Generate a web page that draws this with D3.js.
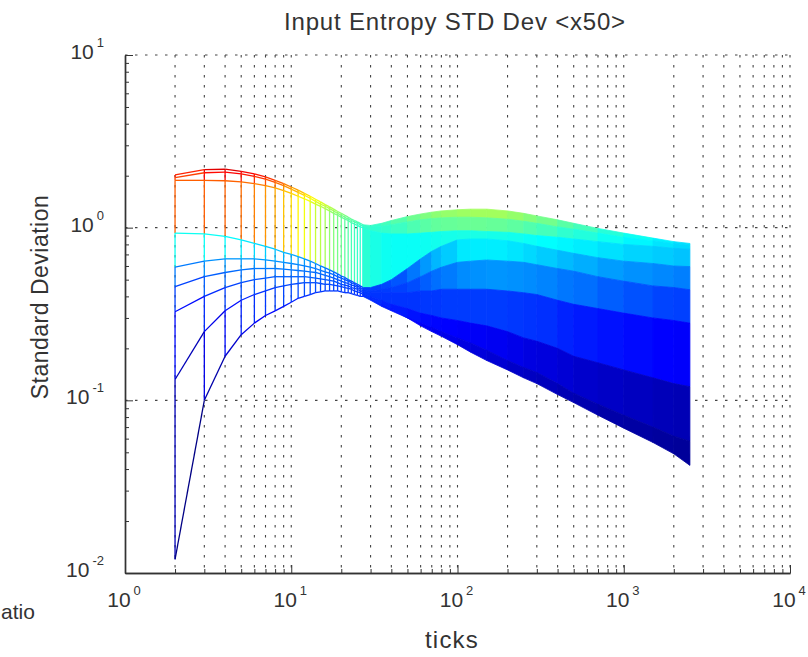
<!DOCTYPE html>
<html>
<head>
<meta charset="utf-8">
<script src="https://cdn.jsdelivr.net/npm/d3@7"></script>
<style>
  body { margin: 0; background: #fff; }
  text { font-family: "Liberation Sans", Arial, sans-serif; fill: #333; }
  .grid line { stroke: #444; stroke-width: 1.1; stroke-dasharray: 2.5,7.5; }
</style>
</head>
<body>
<div class="chart"></div>
<script>
// tick counts sampled along the x axis
var tickCols = [2, 3, 4, 5, 6, 7, 8, 9, 10, 11, 12, 13, 14, 15, 16, 17, 18, 19, 20, 21, 22, 23, 24, 25, 26, 27,
  30, 35, 40, 50, 60, 70, 80, 100, 120, 150, 200, 250, 300, 400, 500, 700, 1000, 1500, 2000, 2500];

// standard deviation, one array per mesh row (top to bottom)
var run1 = [2.02, 2.17, 2.18, 2.12, 2.05, 1.97, 1.88, 1.80, 1.72, 1.65, 1.58, 1.52, 1.46, 1.41, 1.36, 1.32, 1.28, 1.24, 1.21, 1.18, 1.15, 1.12, 1.10, 1.08, 1.06, 1.04,
  1.03, 1.06, 1.10, 1.16, 1.20, 1.23, 1.25, 1.27, 1.28, 1.28, 1.25, 1.21, 1.17, 1.11, 1.06, 0.99, 0.93, 0.87, 0.83, 0.81];
var run2 = [1.95, 2.08, 2.10, 2.05, 1.98, 1.91, 1.83, 1.75, 1.67, 1.60, 1.54, 1.48, 1.42, 1.37, 1.33, 1.29, 1.25, 1.21, 1.18, 1.15, 1.12, 1.10, 1.08, 1.06, 1.04, 1.02,
  1.01, 1.02, 1.04, 1.08, 1.11, 1.13, 1.14, 1.15, 1.15, 1.14, 1.12, 1.09, 1.06, 1.01, 0.98, 0.93, 0.88, 0.84, 0.81, 0.79];
var run3 = [1.88, 1.88, 1.87, 1.84, 1.80, 1.75, 1.70, 1.64, 1.58, 1.52, 1.47, 1.42, 1.37, 1.33, 1.29, 1.25, 1.21, 1.18, 1.15, 1.12, 1.10, 1.07, 1.05, 1.03, 1.01, 1.00,
  0.96, 0.93, 0.92, 0.92, 0.93, 0.94, 0.95, 0.96, 0.96, 0.95, 0.94, 0.92, 0.90, 0.88, 0.86, 0.83, 0.80, 0.78, 0.76, 0.75];
var run4 = [0.93, 0.92, 0.89, 0.85, 0.81, 0.78, 0.75, 0.72, 0.70, 0.68, 0.66, 0.64, 0.62, 0.60, 0.585, 0.57, 0.555, 0.54, 0.525, 0.515, 0.50, 0.49, 0.48, 0.47, 0.46, 0.45,
  0.45, 0.47, 0.50, 0.58, 0.66, 0.73, 0.78, 0.85, 0.86, 0.86, 0.84, 0.81, 0.78, 0.74, 0.71, 0.67, 0.64, 0.62, 0.60, 0.595];
var run5 = [0.59, 0.64, 0.66, 0.66, 0.66, 0.65, 0.64, 0.63, 0.62, 0.61, 0.60, 0.59, 0.58, 0.565, 0.555, 0.545, 0.535, 0.52, 0.51, 0.50, 0.49, 0.48, 0.47, 0.46, 0.45, 0.44,
  0.43, 0.44, 0.45, 0.48, 0.52, 0.56, 0.59, 0.63, 0.64, 0.65, 0.64, 0.63, 0.61, 0.58, 0.56, 0.52, 0.49, 0.46, 0.45, 0.437];
var run6 = [0.455, 0.52, 0.55, 0.57, 0.58, 0.58, 0.58, 0.575, 0.57, 0.565, 0.56, 0.555, 0.55, 0.54, 0.53, 0.52, 0.51, 0.50, 0.49, 0.48, 0.475, 0.465, 0.46, 0.45, 0.44, 0.43,
  0.42, 0.42, 0.42, 0.42, 0.43, 0.43, 0.44, 0.44, 0.44, 0.44, 0.43, 0.42, 0.41, 0.38, 0.36, 0.34, 0.32, 0.30, 0.29, 0.28];
var run7 = [0.326, 0.40, 0.45, 0.48, 0.50, 0.51, 0.52, 0.52, 0.52, 0.52, 0.52, 0.515, 0.51, 0.505, 0.50, 0.495, 0.49, 0.48, 0.47, 0.465, 0.46, 0.45, 0.445, 0.44, 0.43, 0.42,
  0.40, 0.38, 0.36, 0.34, 0.32, 0.31, 0.30, 0.29, 0.28, 0.27, 0.25, 0.23, 0.22, 0.20, 0.18, 0.165, 0.15, 0.135, 0.125, 0.12];
var run8 = [0.132, 0.25, 0.33, 0.38, 0.41, 0.43, 0.45, 0.46, 0.47, 0.475, 0.48, 0.48, 0.48, 0.475, 0.47, 0.47, 0.465, 0.46, 0.455, 0.45, 0.445, 0.44, 0.43, 0.425, 0.42, 0.41,
  0.39, 0.36, 0.34, 0.30, 0.28, 0.265, 0.25, 0.23, 0.215, 0.195, 0.17, 0.155, 0.145, 0.125, 0.11, 0.095, 0.082, 0.07, 0.062, 0.058];
var run9 = [0.012, 0.10, 0.18, 0.24, 0.28, 0.31, 0.33, 0.35, 0.37, 0.39, 0.40, 0.41, 0.42, 0.425, 0.43, 0.43, 0.43, 0.43, 0.425, 0.42, 0.42, 0.415, 0.41, 0.405, 0.40, 0.40,
  0.38, 0.35, 0.33, 0.30, 0.27, 0.25, 0.235, 0.21, 0.19, 0.17, 0.15, 0.135, 0.125, 0.108, 0.097, 0.082, 0.069, 0.057, 0.049, 0.042];

// axis tick labels (exponents of ten)
var xExponents = ["0", "1", "2", "3", "4"];
var yExponents = ["-2", "-1", "0", "1"];

var runs = [run1, run2, run3, run4, run5, run6, run7, run8, run9];

// SVG area
var svgWidth = 808;
var svgHeight = 657;
var margin = {top: 55, right: 18, bottom: 84, left: 125};

var svg = d3.select(".chart")
  .append("svg")
  .attr("width", svgWidth)
  .attr("height", svgHeight);

// log scales for both axes
var xScale = d3.scaleLog().domain([1, 1e4]).range([margin.left, svgWidth - margin.right]);
var yScale = d3.scaleLog().domain([1e-2, 1e1]).range([svgHeight - margin.bottom, margin.top]);

// jet colormap on the std dev value
var colorScale = d3.scaleLinear()
  .domain([0, 0.3, 0.9, 1.5, 2.1, 2.4])
  .range(["#000080", "#0000ff", "#00ffff", "#ffff00", "#ff0000", "#800000"])
  .clamp(true);

// minor / major positions
var xMajor = xExponents.map(function(e) { return Math.pow(10, +e); });
var yMajor = yExponents.map(function(e) { return Math.pow(10, +e); });
var xMinor = [];
xMajor.slice(0, -1).forEach(function(d) {
  for (var k = 2; k <= 9; k++) xMinor.push(k * d);
});
var yMinor = [];
yMajor.slice(0, -1).forEach(function(d) {
  for (var k = 2; k <= 9; k++) yMinor.push(k * d);
});

// dotted grid: all x decades+minor, only y decades
var grid = svg.append("g").attr("class", "grid");
grid.selectAll(".gx")
  .data(xMajor.slice(1).concat(xMinor))
  .enter().append("line")
  .attr("x1", function(d) { return xScale(d); })
  .attr("x2", function(d) { return xScale(d); })
  .attr("y1", yScale(1e1))
  .attr("y2", yScale(1e-2));
grid.selectAll(".gy")
  .data(yMajor.slice(1))
  .enter().append("line")
  .attr("x1", xScale(1))
  .attr("x2", xScale(1e4))
  .attr("y1", function(d) { return yScale(d); })
  .attr("y2", function(d) { return yScale(d); });

// split between the open mesh and the dense (filled) part
var split = tickCols.indexOf(27);

// filled faces for the dense part, flat colour from the first vertex
var faces = [];
for (var j = split; j < tickCols.length - 1; j++) {
  for (var i = 0; i < runs.length - 1; i++) {
    faces.push({
      pts: [[tickCols[j], runs[i][j]], [tickCols[j + 1], runs[i][j + 1]],
            [tickCols[j + 1], runs[i + 1][j + 1]], [tickCols[j], runs[i + 1][j]]],
      v: runs[i][j]
    });
  }
}
svg.append("g").selectAll("polygon")
  .data(faces)
  .enter().append("polygon")
  .attr("points", function(d) {
    return d.pts.map(function(p) { return xScale(p[0]) + "," + yScale(p[1]); }).join(" ");
  })
  .attr("fill", function(d) { return colorScale(d.v); })
  .attr("stroke", function(d) { return colorScale(d.v); })
  .attr("stroke-width", 0.8);

// mesh edges for the open part
var edges = [];
for (var j = 0; j <= split; j++) {
  for (var i = 0; i < runs.length - 1; i++) {
    edges.push({x1: tickCols[j], y1: runs[i][j], x2: tickCols[j], y2: runs[i + 1][j], v: runs[i][j]});
  }
}
for (var j = 0; j < split; j++) {
  for (var i = 0; i < runs.length; i++) {
    edges.push({x1: tickCols[j], y1: runs[i][j], x2: tickCols[j + 1], y2: runs[i][j + 1], v: runs[i][j]});
  }
}
svg.append("g").selectAll("line")
  .data(edges)
  .enter().append("line")
  .attr("x1", function(d) { return xScale(d.x1); })
  .attr("y1", function(d) { return yScale(d.y1); })
  .attr("x2", function(d) { return xScale(d.x2); })
  .attr("y2", function(d) { return yScale(d.y2); })
  .attr("stroke", function(d) { return colorScale(d.v); })
  .attr("stroke-width", 1.3);

// axes, ticks pointing inward
var axisColor = "#333";
var xAxisG = svg.append("g").attr("transform", "translate(0," + yScale(1e-2) + ")");
xAxisG.append("g").call(d3.axisBottom(xScale).tickValues(xMinor).tickSize(-4).tickSizeOuter(0).tickFormat(""));
xAxisG.append("g").call(d3.axisBottom(xScale).tickValues(xMajor).tickSize(-8).tickSizeOuter(0).tickFormat(""));
var yAxisG = svg.append("g").attr("transform", "translate(" + xScale(1) + ",0)");
yAxisG.append("g").call(d3.axisLeft(yScale).tickValues(yMinor).tickSize(-4).tickSizeOuter(0).tickFormat(""));
yAxisG.append("g").call(d3.axisLeft(yScale).tickValues(yMajor).tickSize(-8).tickSizeOuter(0).tickFormat(""));
svg.selectAll(".domain").attr("stroke", axisColor).attr("stroke-width", 1.4);
svg.selectAll(".tick line").attr("stroke", axisColor);

// x tick labels 10^n
var xLabels = svg.append("g").selectAll("text")
  .data(xExponents)
  .enter().append("text")
  .attr("x", function(d) { return xScale(Math.pow(10, +d)) - 1; })
  .attr("y", yScale(1e-2) + 34)
  .attr("text-anchor", "middle")
  .style("font-size", "21px");
xLabels.append("tspan").text("10");
xLabels.append("tspan").attr("dx", 3).attr("dy", -12).style("font-size", "13px").text(function(d) { return d; });

// y tick labels 10^n
var yLabels = svg.append("g").selectAll("text")
  .data(yExponents)
  .enter().append("text")
  .attr("x", 104)
  .attr("y", function(d) { return yScale(Math.pow(10, +d)) + 4; })
  .attr("text-anchor", "end")
  .style("font-size", "21px");
yLabels.append("tspan").text("10");
yLabels.append("tspan").attr("dx", 3).attr("dy", -12).style("font-size", "13px").text(function(d) { return d; });

// title and axis labels
svg.append("text")
  .attr("x", 455)
  .attr("y", 30)
  .attr("text-anchor", "middle")
  .style("font-size", "24px")
  .style("letter-spacing", "0.8px")
  .text("Input Entropy STD Dev <x50>");

svg.append("text")
  .attr("x", 452)
  .attr("y", 648)
  .attr("text-anchor", "middle")
  .style("font-size", "24px")
  .style("letter-spacing", "1.2px")
  .text("ticks");

svg.append("text")
  .attr("transform", "translate(48,297) rotate(-90)")
  .attr("text-anchor", "middle")
  .style("font-size", "23px")
  .style("letter-spacing", "0.5px")
  .text("Standard Deviation");

// leftover z label, only its tail is inside the figure
svg.append("text")
  .attr("x", 1)
  .attr("y", 619)
  .style("font-size", "21px")
  .text("atio");
</script>
</body>
</html>
